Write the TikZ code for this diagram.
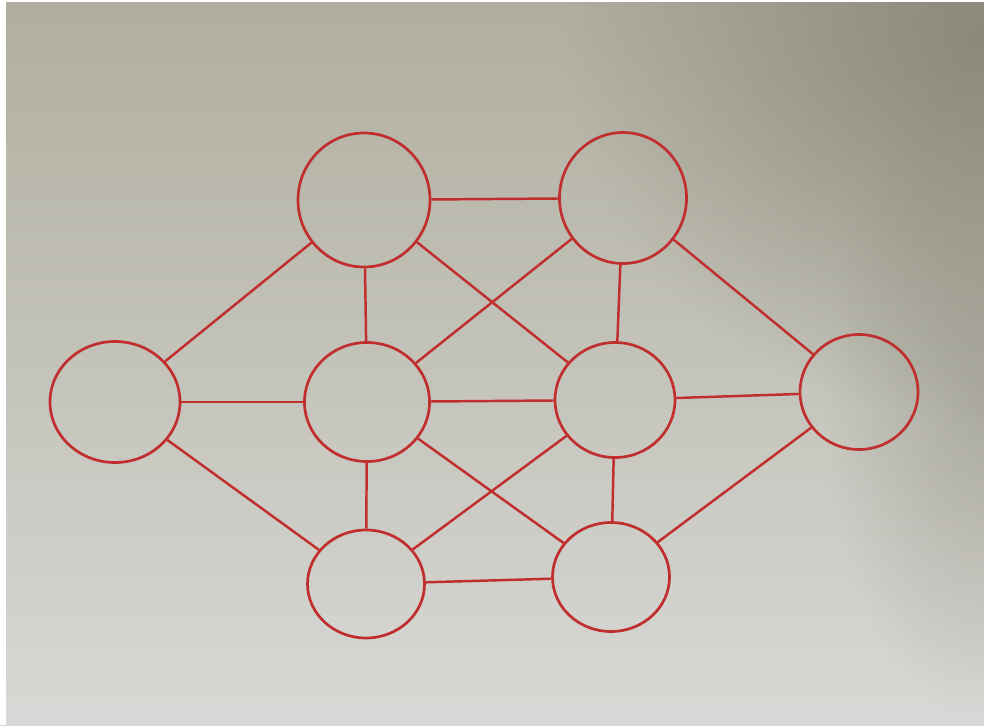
\documentclass[tikz,border=0pt]{standalone}
\usetikzlibrary{shapes.geometric,fadings}
\definecolor{ink}{RGB}{192,46,46}
\definecolor{bgtop}{RGB}{176,174,158}
\definecolor{bgmid}{RGB}{202,202,192}
\definecolor{bgbot}{RGB}{216,216,214}
\definecolor{bgdark}{RGB}{122,120,104}
\tikzfading[name=softfade,inner color=transparent!0,outer color=transparent!100]
\begin{document}
\begin{tikzpicture}[x=0.03cm,y=-0.03cm,
  vtx/.style={ellipse,draw=ink,line width=2.3pt,inner sep=0pt},
  edge/.style={draw=ink,line width=2.1pt}]
\useasboundingbox (0,0) rectangle (984,725);
\shade[top color=bgtop,middle color=bgmid,bottom color=bgbot] (0,0) rectangle (984,725);
\fill[bgdark,path fading=softfade,opacity=0.7] (984,40) ellipse [x radius=420,y radius=380];
\fill[bgdark,path fading=softfade,opacity=0.35] (984,400) ellipse [x radius=160,y radius=320];
\fill[white] (0,0) rectangle (6,725);
\fill[white] (0,0) rectangle (984,2);
\node[vtx,minimum width=3.96cm,minimum height=4.02cm] (tl) at (364,200) {};
\node[vtx,minimum width=3.81cm,minimum height=3.93cm] (tr) at (623,198) {};
\node[vtx,minimum width=3.90cm,minimum height=3.63cm] (l) at (115,402) {};
\node[vtx,minimum width=3.75cm,minimum height=3.57cm] (cl) at (367,402) {};
\node[vtx,minimum width=3.60cm,minimum height=3.45cm] (cr) at (615,400) {};
\node[vtx,minimum width=3.54cm,minimum height=3.45cm] (r) at (859,392) {};
\node[vtx,minimum width=3.51cm,minimum height=3.24cm] (bl) at (366,584) {};
\node[vtx,minimum width=3.51cm,minimum height=3.27cm] (br) at (611,577) {};
\draw[edge] (tl) -- (tr);
\draw[edge] (tl) -- (l);
\draw[edge] (tl) -- (cl);
\draw[edge] (tl) -- (cr);
\draw[edge] (tr) -- (cl);
\draw[edge] (tr) -- (cr);
\draw[edge] (tr) -- (r);
\draw[edge] (l) -- (cl);
\draw[edge] (l) -- (bl);
\draw[edge] (cl) -- (cr);
\draw[edge] (cl) -- (bl);
\draw[edge] (cl) -- (br);
\draw[edge] (cr) -- (bl);
\draw[edge] (cr) -- (br);
\draw[edge] (cr) -- (r);
\draw[edge] (r) -- (br);
\draw[edge] (bl) -- (br);
\end{tikzpicture}
\end{document}
